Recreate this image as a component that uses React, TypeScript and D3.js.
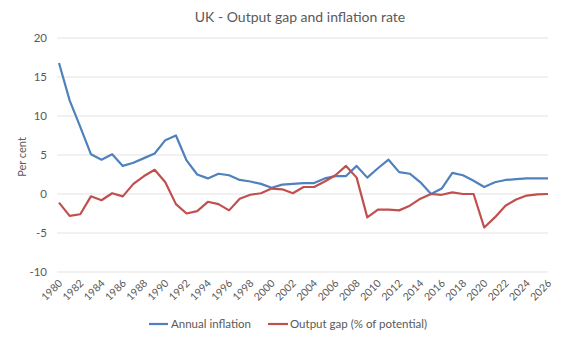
import React from "react";
import * as d3 from "d3";

const years: number[] = d3.range(1980, 2027);
const inflation: number[] = [
  16.8, 12.0, 8.6, 5.1, 4.4, 5.1, 3.6, 4.0, 4.6, 5.2, 6.9, 7.5, 4.3, 2.5, 2.0, 2.6, 2.4,
  1.8, 1.6, 1.3, 0.8, 1.2, 1.3, 1.4, 1.4, 2.0, 2.3, 2.3, 3.6, 2.1, 3.3, 4.4, 2.8, 2.6,
  1.5, 0.0, 0.7, 2.7, 2.4, 1.7, 0.9, 1.5, 1.8, 1.9, 2.0, 2.0, 2.0,
];
const outputGap: number[] = [
  -1.1, -2.8, -2.6, -0.3, -0.8, 0.1, -0.3, 1.3, 2.3, 3.1, 1.5, -1.3, -2.5, -2.2, -1.0, -1.3, -2.1,
  -0.6, -0.1, 0.1, 0.7, 0.6, 0.1, 0.9, 0.9, 1.6, 2.4, 3.6, 2.1, -3.0, -2.0, -2.0, -2.1, -1.5,
  -0.6, 0.0, -0.1, 0.2, 0.0, 0.0, -4.3, -3.0, -1.5, -0.7, -0.2, -0.05, 0.0,
];
const yTicks: number[] = [-10, -5, 0, 5, 10, 15, 20];
const xTickYears: number[] = d3.range(1980, 2027, 2);
const seriesNames: string[] = ["Annual inflation", "Output gap (% of potential)"];

const W = 570;
const H = 342;
const FONT = "Lato, 'Open Sans', sans-serif";
const TEXT = "#595959";
const BLUE = "#4F81BD";
const RED = "#C0504D";

export default function App() {
  const x = d3.scaleLinear().domain([1980, 2026]).range([59, 548]);
  const y = d3.scaleLinear().domain([-10, 20]).range([272, 38]);
  const line = d3
    .line<number>()
    .x((_, i) => x(years[i]))
    .y((d) => y(d));

  return (
    <svg
      width={W}
      height={H}
      style={{ position: "absolute", left: 0, top: 0, background: "#fff" }}
      fontFamily={FONT}
    >
      <text x={300} y={22} textAnchor="middle" fontSize={14} fill={TEXT}>
        UK - Output gap and inflation rate
      </text>
      {yTicks.map((t) => (
        <g key={t}>
          <line x1={57} x2={548} y1={y(t)} y2={y(t)} stroke="#e3e3e3" strokeWidth={1} />
          <text x={47} y={y(t) + 4} textAnchor="end" fontSize={11.5} fill={TEXT}>
            {t}
          </text>
        </g>
      ))}
      <text
        transform={`translate(26,157) rotate(-90)`}
        textAnchor="middle"
        fontSize={11}
        fill={TEXT}
      >
        Per cent
      </text>
      {xTickYears.map((yr) => (
        <text
          key={yr}
          transform={`translate(${x(yr) + 4},${284}) rotate(-45)`}
          textAnchor="end"
          fontSize={10.5}
          fill={TEXT}
        >
          {yr}
        </text>
      ))}
      <path d={line(inflation) || ""} fill="none" stroke={BLUE} strokeWidth={2.2} strokeLinejoin="round" />
      <path d={line(outputGap) || ""} fill="none" stroke={RED} strokeWidth={2.2} strokeLinejoin="round" />
      <line x1={149} x2={168} y1={324} y2={324} stroke={BLUE} strokeWidth={2.2} />
      <text x={171} y={328} fontSize={11.5} fill={TEXT}>
        {seriesNames[0]}
      </text>
      <line x1={268} x2={288} y1={324} y2={324} stroke={RED} strokeWidth={2.2} />
      <text x={290} y={328} fontSize={11.5} fill={TEXT}>
        {seriesNames[1]}
      </text>
    </svg>
  );
}
